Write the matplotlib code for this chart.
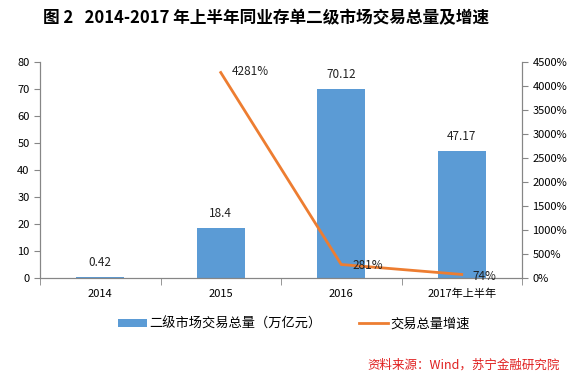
import matplotlib
matplotlib.use("Agg")
import matplotlib.pyplot as plt
from matplotlib.ticker import FixedLocator, FuncFormatter
from matplotlib.patches import Patch
from matplotlib.lines import Line2D

plt.rcParams['font.family'] = ['Noto Sans CJK SC', 'DejaVu Sans']

categories = ["2014", "2015", "2016", "2017年上半年"]
volume = [0.42, 18.4, 70.12, 47.17]
growth_x = ["2015", "2016", "2017年上半年"]
growth = [4281, 281, 74]
growth_labels = ["4281%", "281%", "74%"]
volume_labels = ["0.42", "18.4", "70.12", "47.17"]

title = "图 2   2014-2017 年上半年同业存单二级市场交易总量及增速"
bar_name = "二级市场交易总量（万亿元）"
line_name = "交易总量增速"
source = "资料来源：Wind，苏宁金融研究院"

bar_color = "#5B9BD5"
line_color = "#ED7D31"
axis_color = "#868686"

fig = plt.figure(figsize=(5.76, 3.75), dpi=100)
ax = fig.add_axes([40/576, 1-278/375, 482/576, 216/375])
ax2 = ax.twinx()

x = list(range(len(categories)))
ax.bar(x, volume, width=0.4, color=bar_color, zorder=2)
ax.set_xlim(-0.5, len(categories) - 0.5)
ax.set_ylim(0, 80)
ax.set_yticks(range(0, 81, 10))
ax.set_xticks(x)
ax.set_xticklabels(categories)
ax.xaxis.set_minor_locator(FixedLocator([i + 0.5 for i in range(-1, len(categories))]))
ax.tick_params(axis='x', which='major', length=0, labelsize=8, pad=8, colors='black')
ax.tick_params(axis='x', which='minor', length=5, color=axis_color, direction='out')
ax.tick_params(axis='y', length=4, color=axis_color, labelsize=8, labelcolor='black')
for a in (ax, ax2):
    a.spines['top'].set_visible(False)
    for s in ['left', 'bottom', 'right']:
        a.spines[s].set_color(axis_color)

for xi, v, lab in zip(x, volume, volume_labels):
    ax.text(xi, v + 3, lab, ha='center', va='bottom', fontsize=8.5, color='#222222')

gx = [categories.index(c) for c in growth_x]
ax2.plot(gx, growth, color=line_color, lw=2, zorder=3)
ax2.set_ylim(0, 4500)
ax2.set_yticks(range(0, 4501, 500))
ax2.yaxis.set_major_formatter(FuncFormatter(lambda v, p: f"{int(v)}%"))
ax2.tick_params(axis='y', length=4, color=axis_color, labelsize=8, labelcolor='black')
offsets = [(0.09, 20), (0.09, -30), (0.09, -40)]
for xi, v, lab, (dx, dy) in zip(gx, growth, growth_labels, offsets):
    ax2.text(xi + dx, v + dy, lab, ha='left', va='center', fontsize=8.5, color='#222222')

fig.text(266/576, 1 - 18/375, title, ha='center', va='center', fontsize=12, fontweight='bold')

handles = [Patch(facecolor=bar_color, label=bar_name),
           Line2D([0], [0], color=line_color, lw=2, label=line_name)]
fig.legend(handles=handles, loc='center', bbox_to_anchor=(294/576, 1 - 324/375), ncol=2,
           frameon=False, fontsize=9.5, handlelength=2.2, handleheight=0.6,
           columnspacing=2.8, handletextpad=0.2)

fig.text(560/576, 1 - 365/375, source, ha='right', va='center', fontsize=9,
         color='#E02020', style='italic')

fig.savefig("out.png", dpi=100)
